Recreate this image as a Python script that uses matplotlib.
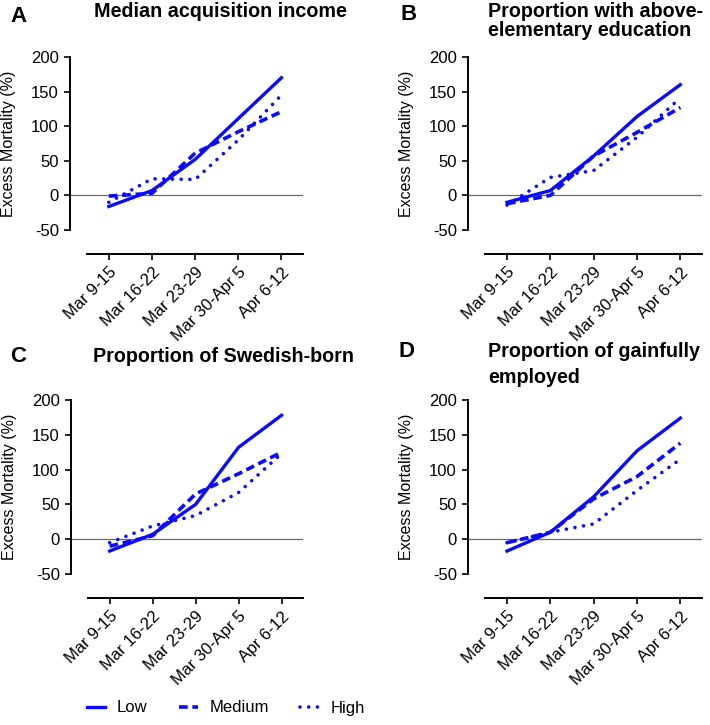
import matplotlib
matplotlib.use('Agg')
import matplotlib.pyplot as plt
from matplotlib.lines import Line2D

plt.rcParams['font.family'] = ['Liberation Sans', 'DejaVu Sans']
plt.rcParams['axes.unicode_minus'] = False

weeks = ['Mar 9-15', 'Mar 16-22', 'Mar 23-29', 'Mar 30-Apr 5', 'Apr 6-12']
levels = ['Low', 'Medium', 'High']

# excess mortality (%) per panel, order: low, medium, high
income_low = [-16, 7, 52, 111, 170]
income_med = [-1, 3, 61, 92, 121]
income_high = [-10, 24, 23, 80, 145]

educ_low = [-10, 7, 57, 114, 160]
educ_med = [-12, 0, 57, 91, 127]
educ_high = [-14, 26, 36, 84, 141]

born_low = [-17, 7, 50, 132, 178]
born_med = [-10, 5, 65, 94, 125]
born_high = [-5, 19, 34, 67, 123]

empl_low = [-17, 10, 61, 127, 174]
empl_med = [-5, 10, 58, 90, 138]
empl_high = [-5, 10, 22, 70, 115]

panels = [
    ('A', 'Median acquisition income', [income_low, income_med, income_high]),
    ('B', 'Proportion with above-\nelementary education', [educ_low, educ_med, educ_high]),
    ('C', 'Proportion of Swedish-born', [born_low, born_med, born_high]),
    ('D', 'Proportion of gainfully\nemployed', [empl_low, empl_med, empl_high]),
]

W, H = 710, 725
blue = '#0a0aff'
styles = [dict(ls='-', lw=2.4),
          dict(ls=(0, (2.4, 1.3)), lw=2.6),
          dict(ls=(0, (0.01, 2.4)), lw=2.6, dash_capstyle='round')]

fig = plt.figure(figsize=(W / 100, H / 100), dpi=100)

# axes boxes in pixels: left, top, right, bottom
boxes = [(70, 57, 303, 230), (468, 57, 702, 230),
         (71, 400, 303, 574), (468, 400, 702, 574)]
letter_pos = [(10, 17), (400, 15), (10, 356), (398, 352)]
title_pos = [(220, 10, 'center', 1.0), (488, 10, 'left', 1.0),
             (223, 355, 'center', 1.0), (488, 350, 'left', 1.45)]

for (letter, title, series), (l, t, r, b), (lx, ly), (tx, ty, tha, tls) in zip(
        panels, boxes, letter_pos, title_pos):
    ax = fig.add_axes([l / W, 1 - b / H, (r - l) / W, (b - t) / H])
    # spine placement first: it resets the ticks
    ax.spines['top'].set_visible(False)
    ax.spines['right'].set_visible(False)
    ax.spines['bottom'].set_position(('outward', 17))
    for s in ['left', 'bottom']:
        ax.spines[s].set_linewidth(1.4)
    x = list(range(len(weeks)))
    for vals, st in zip(series, styles):
        ax.plot(x, vals, color=blue, **st)
    ax.axhline(0, color='#6a6a6a', lw=0.9, zorder=0)
    ax.set_ylim(-50, 200)
    ax.set_xlim(-0.9, 4.5)
    ax.spines['bottom'].set_bounds(-0.5, 4.5)
    ax.set_yticks([-50, 0, 50, 100, 150, 200])
    ax.set_xticks(x, weeks)
    ax.tick_params(width=1.2, length=4.5, labelsize=12, colors='black')
    for lab in ax.get_xticklabels():
        lab.set_rotation(45)
        lab.set_ha('right')
        lab.set_rotation_mode('anchor')
    ax.set_ylabel('Excess Mortality (%)', fontsize=11.5)
    ax.yaxis.set_label_coords(-0.232, 0.5)
    fig.text(lx / W, 1 - ly / H, letter, fontsize=16, fontweight='bold',
             va='center', ha='left')
    fig.text(tx / W, 1 - (ty - 8) / H, title, fontsize=14.2,
             fontweight='bold', va='top', ha=tha, linespacing=tls)

handles = [Line2D([], [], color=blue, **st) for st in styles]
fig.legend(handles, levels, loc='center left', bbox_to_anchor=(87 / W, 1 - 708 / H),
           ncol=3, frameon=False, fontsize=12, handlelength=1.1,
           columnspacing=1.9, handletextpad=0.7, borderpad=0, borderaxespad=0)

fig.savefig('out.png', dpi=100)
